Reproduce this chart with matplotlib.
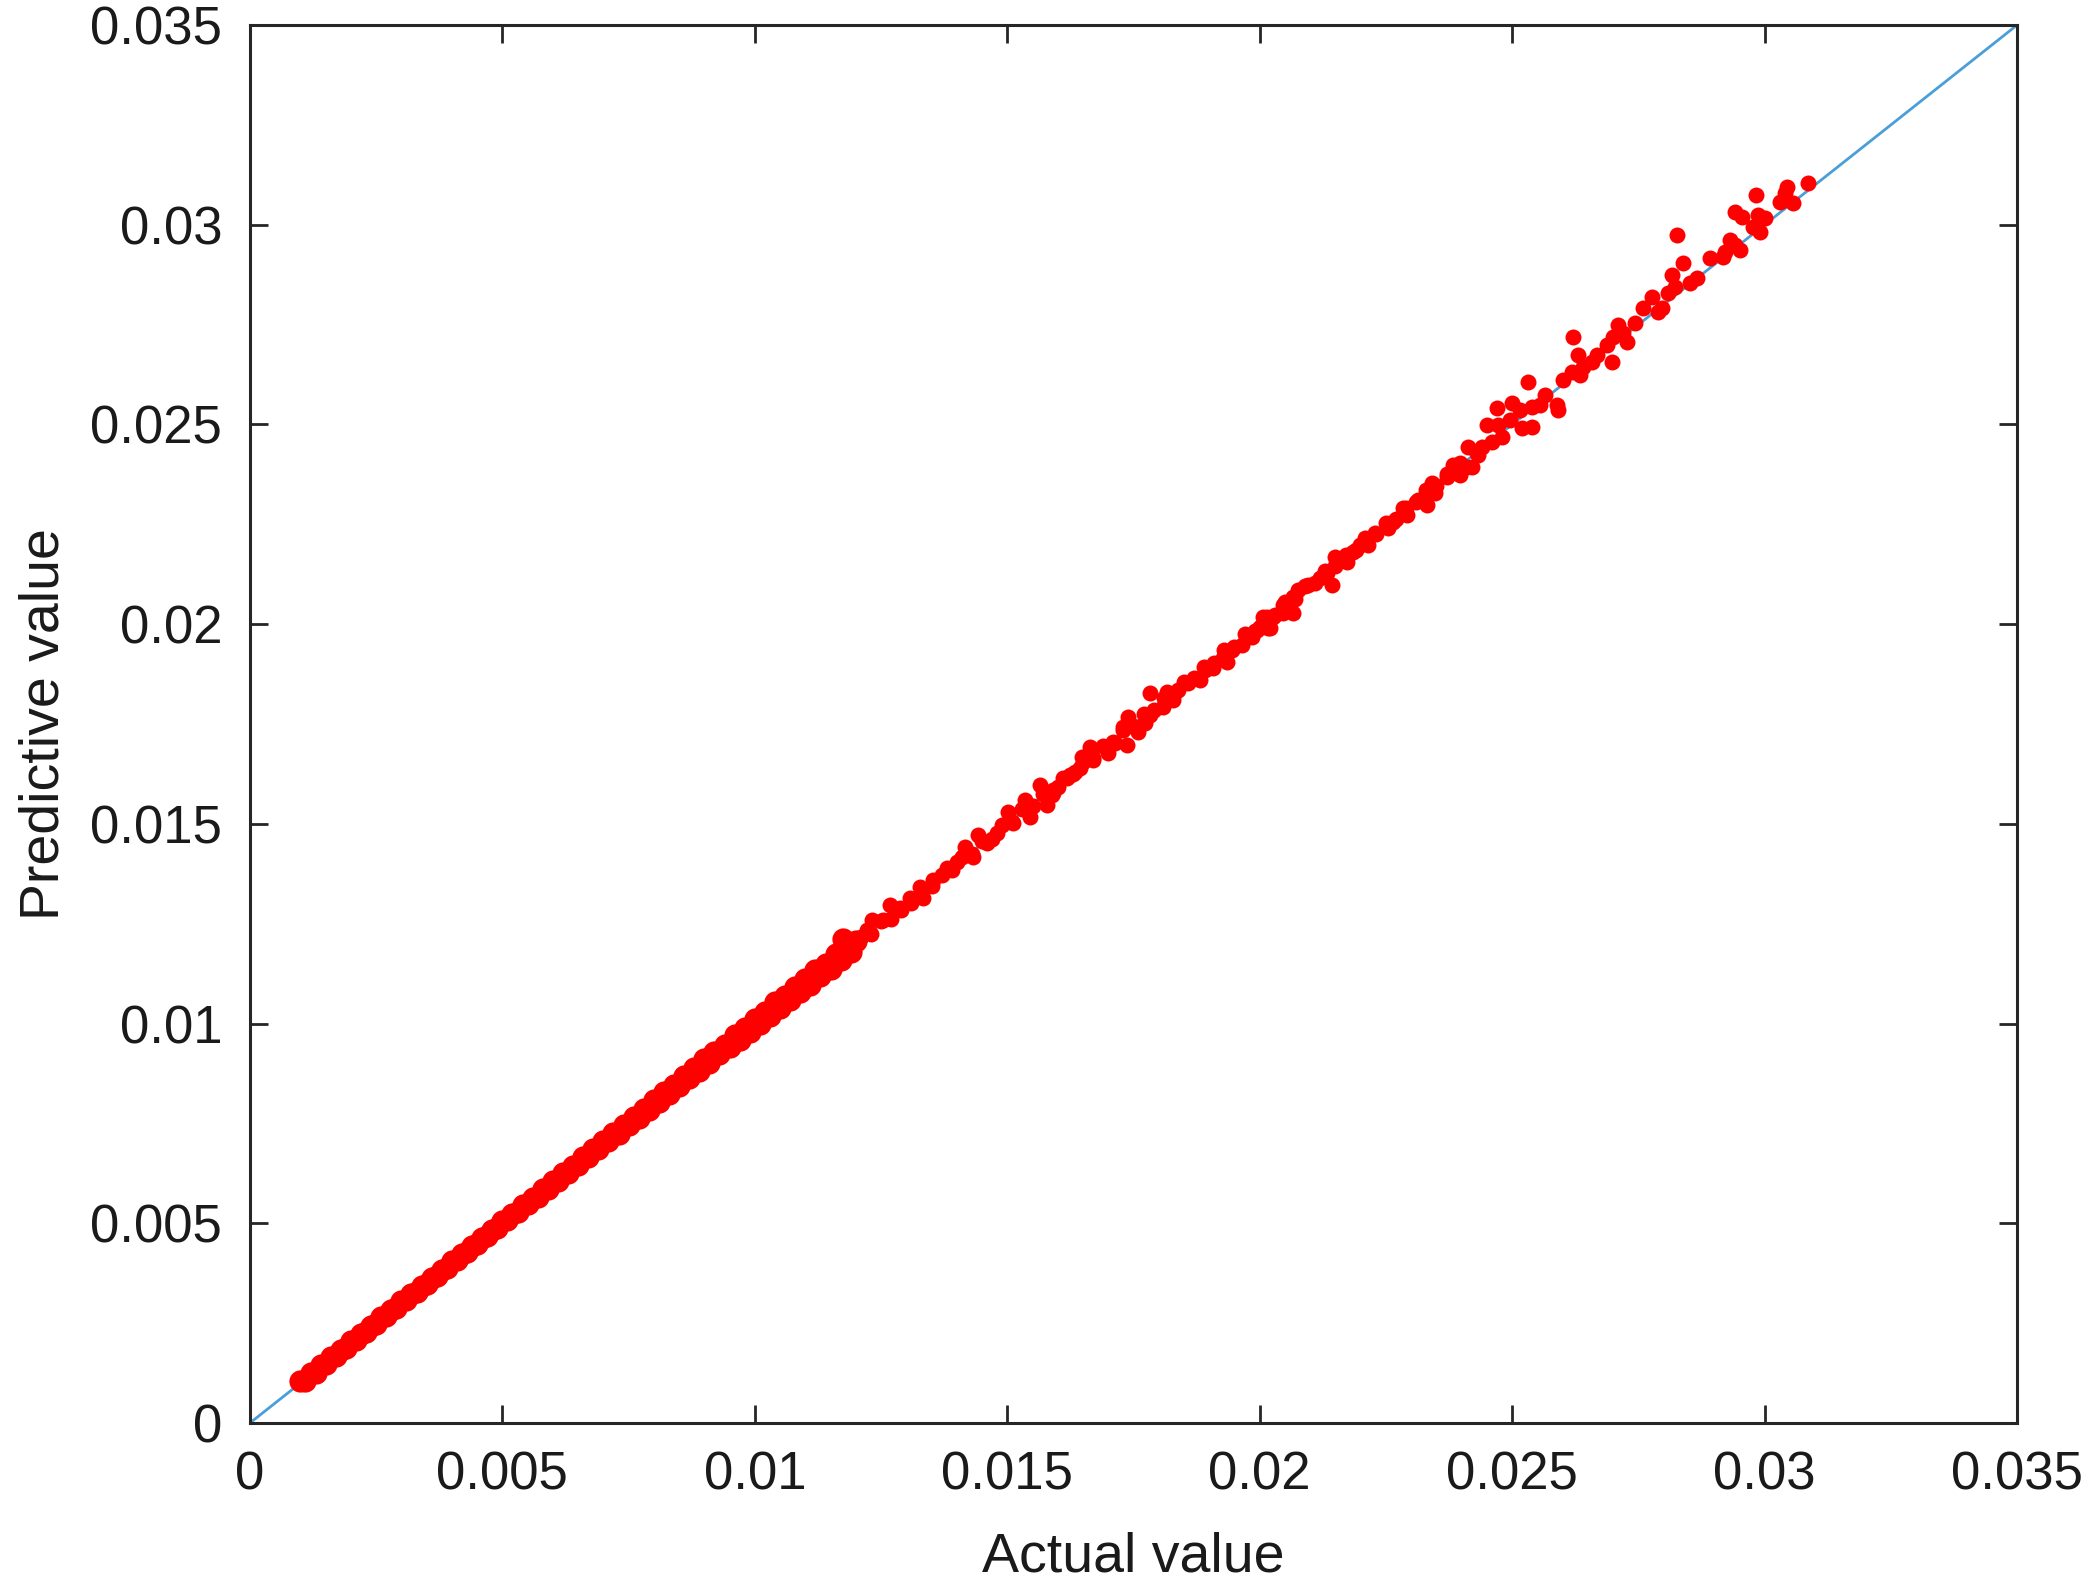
import matplotlib
matplotlib.use("Agg")
import matplotlib.pyplot as plt

plt.rcParams["font.family"] = ["Liberation Sans", "DejaVu Sans"]

# tight band of low values (actual, predicted)
band_actual = [
    0.0010, 0.0011, 0.0012, 0.0013, 0.0014, 0.0015, 0.0016, 0.0017, 0.0018, 0.0019,
    0.0020, 0.0021, 0.0022, 0.0023, 0.0024, 0.0025, 0.0026, 0.0027, 0.0028, 0.0029,
    0.0030, 0.0031, 0.0032, 0.0033, 0.0034, 0.0035, 0.0036, 0.0037, 0.0038, 0.0039,
    0.0040, 0.0041, 0.0042, 0.0043, 0.0044, 0.0045, 0.0046, 0.0047, 0.0048, 0.0049,
    0.0050, 0.0051, 0.0052, 0.0053, 0.0054, 0.0055, 0.0056, 0.0057, 0.0058, 0.0059,
    0.0060, 0.0061, 0.0062, 0.0063, 0.0064, 0.0065, 0.0066, 0.0067, 0.0068, 0.0069,
    0.0070, 0.0071, 0.0072, 0.0073, 0.0074, 0.0075, 0.0076, 0.0077, 0.0078, 0.0079,
    0.0080, 0.0081, 0.0082, 0.0083, 0.0084, 0.0085, 0.0086, 0.0087, 0.0088, 0.0089,
    0.0090, 0.0091, 0.0092, 0.0093, 0.0094, 0.0095, 0.0096, 0.0097, 0.0098, 0.0099,
    0.0100, 0.0101, 0.0102, 0.0103, 0.0104, 0.0105, 0.0106, 0.0107, 0.0108, 0.0109,
    0.0110, 0.0111, 0.0112, 0.0113, 0.0114, 0.0115, 0.0116, 0.0117, 0.0118, 0.0119,
    0.0120, 0.01174,
]
band_pred = [
    0.00104, 0.00106, 0.00125, 0.00126, 0.00144, 0.00147, 0.00165, 0.00167, 0.00184, 0.00188,
    0.00206, 0.00207, 0.00224, 0.00228, 0.00244, 0.00248, 0.00265, 0.00267, 0.00284, 0.00288,
    0.00305, 0.00307, 0.00324, 0.00328, 0.00344, 0.00348, 0.00364, 0.00367, 0.00384, 0.00388,
    0.00405, 0.00407, 0.00424, 0.00428, 0.00444, 0.00448, 0.00464, 0.00467, 0.00484, 0.00488,
    0.00505, 0.00507, 0.00524, 0.00528, 0.00545, 0.00548, 0.00564, 0.00566, 0.00585, 0.00587,
    0.00605, 0.00606, 0.00625, 0.00627, 0.00644, 0.00646, 0.00666, 0.00665, 0.00686, 0.00686,
    0.00705, 0.00705, 0.00727, 0.00724, 0.00745, 0.00745, 0.00767, 0.00764, 0.00786, 0.00784,
    0.00808, 0.00803, 0.00829, 0.00823, 0.00846, 0.00844, 0.00870, 0.00863, 0.00889, 0.00882,
    0.00911, 0.00901, 0.00928, 0.00923, 0.00946, 0.00942, 0.00971, 0.00960, 0.00989, 0.00980,
    0.01011, 0.01000, 0.01028, 0.01020, 0.01053, 0.01038, 0.01068, 0.01060, 0.01091, 0.01078,
    0.01111, 0.01096, 0.01133, 0.01118, 0.01148, 0.01136, 0.01173, 0.01158, 0.01191, 0.01180,
    0.01208, 0.01213,
]

# middle stretch where the points still form a near-solid strip
mid_actual = [
    0.0121, 0.0123, 0.0125, 0.0127, 0.0129, 0.0131, 0.0133, 0.0135, 0.0137, 0.0139,
    0.0141, 0.0143, 0.0145, 0.0147, 0.0149, 0.0151, 0.0153, 0.0155, 0.0157, 0.0159,
    0.0161, 0.0163, 0.0165, 0.0167, 0.0169, 0.0171, 0.0173, 0.0175, 0.0177, 0.0179,
    0.0181, 0.0183, 0.0185, 0.0187, 0.0189, 0.0191, 0.0193, 0.0195, 0.0197, 0.0199,
    0.0201, 0.0203, 0.0205, 0.0207, 0.0209, 0.0211, 0.0213, 0.0215, 0.0217, 0.0219,
    0.0221, 0.0223, 0.0225, 0.0227, 0.0229, 0.0231, 0.0233, 0.0235, 0.0237, 0.0239,
]
mid_pred = [
    0.01218, 0.01225, 0.01256, 0.01262, 0.01285, 0.01303, 0.01328, 0.01345, 0.01372, 0.01385,
    0.01416, 0.01425, 0.01456, 0.01462, 0.01496, 0.01505, 0.01536, 0.01544, 0.01575, 0.01586,
    0.01614, 0.01626, 0.01654, 0.01664, 0.01696, 0.01706, 0.01735, 0.01744, 0.01776, 0.01784,
    0.01815, 0.01826, 0.01854, 0.01866, 0.01892, 0.01904, 0.01935, 0.01943, 0.01975, 0.01984,
    0.02016, 0.02024, 0.02056, 0.02064, 0.02095, 0.02104, 0.02134, 0.02145, 0.02172, 0.02186,
    0.02214, 0.02225, 0.02253, 0.02264, 0.02292, 0.02305, 0.02336, 0.02345, 0.02376, 0.02385,
]

# scattered upper part
upper_actual = [
    0.01204, 0.01222, 0.01232, 0.01254, 0.01268, 0.01288, 0.01307, 0.01333, 0.01327, 0.01353,
    0.01380, 0.01400, 0.01432, 0.01416, 0.01460, 0.01442, 0.01480, 0.01511, 0.01501, 0.01545,
    0.01535, 0.01579, 0.01591, 0.01565, 0.01624, 0.01644, 0.01668,
    0.01589, 0.01600, 0.01618, 0.01634, 0.01648, 0.01670, 0.01664, 0.01699, 0.01713, 0.01737,
    0.01729, 0.01759, 0.01739, 0.01773, 0.01783, 0.01808, 0.01828, 0.01783, 0.01816, 0.01838,
    0.01858, 0.01882, 0.01892, 0.01907, 0.01935, 0.01927, 0.01945, 0.01965, 0.01981, 0.02020,
    0.02001, 0.02014, 0.02046, 0.02060,
    0.01985, 0.01995, 0.02016, 0.02006, 0.02026, 0.02046, 0.02066, 0.02066, 0.02076, 0.02096,
    0.02119, 0.02143, 0.02133, 0.02149, 0.02173, 0.02214, 0.02185, 0.02199, 0.02209, 0.02228,
    0.02254, 0.02264, 0.02292, 0.02284, 0.02314, 0.02331, 0.02347, 0.02341, 0.02371, 0.02397,
    0.02383, 0.02411, 0.02430,
    0.02391, 0.02420, 0.02397, 0.02432, 0.02413, 0.02440, 0.02460, 0.02480, 0.02539, 0.02520,
    0.02450, 0.02472, 0.02496, 0.02516, 0.02470, 0.02500, 0.02591, 0.02589, 0.02539, 0.02555,
    0.02565, 0.02531, 0.02601, 0.02619, 0.02634, 0.02640, 0.02658, 0.02698, 0.02668, 0.02630,
    0.02621, 0.02688, 0.02700, 0.02727, 0.02720, 0.02710, 0.02743, 0.02759,
    0.02789, 0.02797, 0.02777, 0.02809, 0.02823, 0.02852, 0.02866, 0.02817, 0.02838, 0.02892,
    0.02918, 0.02922, 0.02951, 0.02941, 0.02932, 0.02826, 0.02991, 0.02977, 0.03001, 0.02987,
    0.02955, 0.02941, 0.02983, 0.03057, 0.03031, 0.03041, 0.03044, 0.03086,
]
upper_pred = [
    0.01209, 0.01234, 0.01259, 0.01259, 0.01297, 0.01289, 0.01314, 0.01314, 0.01342, 0.01359,
    0.01389, 0.01404, 0.01417, 0.01442, 0.01452, 0.01472, 0.01477, 0.01502, 0.01530, 0.01517,
    0.01560, 0.01547, 0.01577, 0.01597, 0.01622, 0.01640, 0.01667,
    0.01572, 0.01592, 0.01615, 0.01630, 0.01667, 0.01660, 0.01692, 0.01677, 0.01702, 0.01697,
    0.01743, 0.01730, 0.01768, 0.01753, 0.01773, 0.01793, 0.01810, 0.01828, 0.01830, 0.01835,
    0.01853, 0.01860, 0.01885, 0.01890, 0.01905, 0.01915, 0.01935, 0.01948, 0.01973, 0.01990,
    0.01993, 0.02018, 0.02028, 0.02053,
    0.01968, 0.01985, 0.01990, 0.02018, 0.02018, 0.02048, 0.02028, 0.02068, 0.02085, 0.02098,
    0.02116, 0.02098, 0.02128, 0.02168, 0.02156, 0.02198, 0.02181, 0.02198, 0.02216, 0.02228,
    0.02241, 0.02256, 0.02273, 0.02291, 0.02311, 0.02298, 0.02328, 0.02353, 0.02368, 0.02373,
    0.02398, 0.02393, 0.02428,
    0.02378, 0.02393, 0.02403, 0.02423, 0.02443, 0.02443, 0.02456, 0.02469, 0.02494, 0.02491,
    0.02499, 0.02499, 0.02511, 0.02536, 0.02541, 0.02554, 0.02536, 0.02549, 0.02544, 0.02549,
    0.02574, 0.02606, 0.02611, 0.02631, 0.02624, 0.02644, 0.02656, 0.02656, 0.02674, 0.02674,
    0.02719, 0.02699, 0.02719, 0.02706, 0.02729, 0.02749, 0.02754, 0.02791,
    0.02781, 0.02791, 0.02819, 0.02829, 0.02844, 0.02854, 0.02867, 0.02874, 0.02904, 0.02917,
    0.02919, 0.02932, 0.02937, 0.02949, 0.02962, 0.02974, 0.02982, 0.02994, 0.03017, 0.03024,
    0.03019, 0.03032, 0.03074, 0.03054, 0.03057, 0.03079, 0.03094, 0.03104,
]

ticks = [0, 0.005, 0.01, 0.015, 0.02, 0.025, 0.03, 0.035]
tick_labels = ["0", "0.005", "0.01", "0.015", "0.02", "0.025", "0.03", "0.035"]
ref_line = [0, 0.035]

fig = plt.figure(figsize=(20.95, 15.96), dpi=100)
ax = fig.add_axes([0.1193, 0.1084, 0.8435, 0.8759])

ax.plot(ref_line, ref_line, color="#4A9FD8", linewidth=2.0, zorder=1)
# band gets a slightly thicker marker so it reads as one solid stroke
ax.plot(band_actual, band_pred, linestyle="none", marker="o", markersize=16,
        color="#FF0000", markeredgewidth=0, zorder=2)
ax.plot(mid_actual, mid_pred, linestyle="none", marker="o", markersize=11.5,
        color="#FF0000", markeredgewidth=0, zorder=2)
ax.plot(upper_actual, upper_pred, linestyle="none", marker="o", markersize=11.5,
        color="#FF0000", markeredgewidth=0, zorder=2)

ax.set_xlim(0, 0.035)
ax.set_ylim(0, 0.035)
ax.set_xticks(ticks)
ax.set_xticklabels(tick_labels)
ax.set_yticks(ticks)
ax.set_yticklabels(tick_labels)
ax.tick_params(direction="in", length=13, width=2, top=True, right=True,
               labelsize=38, color="#262626", labelcolor="#1a1a1a")
ax.tick_params(axis="x", pad=20)
ax.tick_params(axis="y", pad=20)
for s in ax.spines.values():
    s.set_linewidth(2.2)
    s.set_color("#262626")

ax.set_xlabel("Actual value", fontsize=40, color="#1a1a1a", labelpad=22)
ax.set_ylabel("Predictive value", fontsize=40, color="#1a1a1a", labelpad=14)

fig.savefig("out.png", dpi=100)
